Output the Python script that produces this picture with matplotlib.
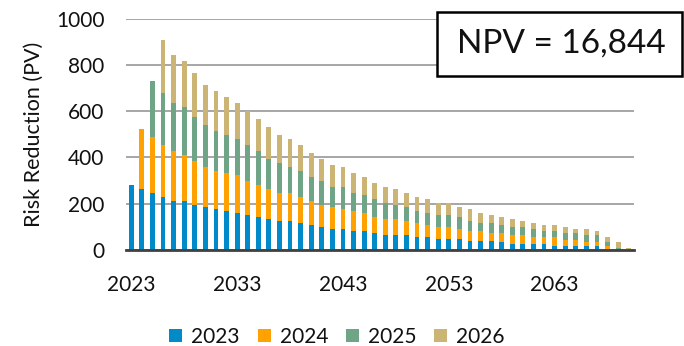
import numpy as np
import matplotlib.pyplot as plt
from matplotlib.patches import Rectangle

plt.rcParams['font.family'] = ['Lato', 'DejaVu Sans']

years = list(range(2023, 2071))
series_names = ["2023", "2024", "2025", "2026"]
colors = ["#008AC9", "#FFA100", "#6FA487", "#CCB574"]

# each cohort runs 45 years, starting in its own year
v2023 = [281, 264, 246, 229, 212, 212, 194, 185, 177, 168, 159, 151, 142, 133, 125,
         125, 116, 107, 99, 90, 90, 81, 81, 72, 64, 64, 63, 54, 54, 45,
         45, 45, 36, 36, 36, 35, 26, 26, 26, 26, 18, 18, 18, 18, 18]
v2024 = [261, 244, 226, 217, 200, 191, 174, 165, 165, 166, 147, 139, 131, 121, 121,
         113, 105, 95, 95, 87, 87, 78, 70, 69, 69, 61, 61, 53, 53, 53,
         44, 44, 44, 36, 36, 36, 36, 27, 27, 35, 26, 26, 17, 17, 18]
v2025 = [243, 226, 209, 208, 192, 183, 174, 165, 156, 157, 148, 130, 131, 113, 113,
         104, 104, 87, 95, 78, 79, 78, 70, 61, 61, 53, 52, 52, 52, 53,
         44, 35, 43, 35, 35, 35, 35, 26, 26, 27, 27, 27, 27, 17, 9]
v2026 = [226, 208, 200, 191, 174, 174, 166, 157, 148, 139, 139, 121, 122, 113, 104,
         96, 96, 87, 87, 78, 70, 69, 70, 62, 61, 61, 53, 53, 43, 53,
         44, 35, 35, 35, 26, 27, 27, 27, 26, 17, 26, 17, 18, 26, 9]

npv_text = "NPV = 16,844"


def pad_series(vals, start):
    out = np.zeros(len(years))
    i0 = years.index(start)
    out[i0:i0 + len(vals)] = vals
    return out


data = [pad_series(v2023, 2023), pad_series(v2024, 2024),
        pad_series(v2025, 2025), pad_series(v2026, 2026)]

fig = plt.figure(figsize=(6.84, 3.46), dpi=100)
ax = fig.add_axes([126 / 684, 1 - 249.7 / 346, 508 / 684, (249.7 - 19) / 346])

x = np.arange(len(years))
bottom = np.zeros(len(years))
for name, vals, c in zip(series_names, data, colors):
    ax.bar(x, vals, width=0.45, bottom=bottom, color=c, label=name, zorder=3)
    bottom += vals

ax.set_xlim(-0.5, len(years) - 0.5)
ax.set_ylim(0, 1000)
ax.set_yticks(range(0, 1001, 200))
ax.set_xticks(x[::10])
ax.set_xticklabels([str(y) for y in years[::10]])
ax.grid(axis='y', color='#A6A6A6', linewidth=1.4, zorder=0)
for s in ['top', 'right', 'left']:
    ax.spines[s].set_visible(False)
ax.spines['bottom'].set_color('#404040')
ax.spines['bottom'].set_linewidth(2)
ax.spines['bottom'].set_zorder(4)
ax.tick_params(axis='both', length=0, labelsize=15, colors='#111111')
ax.tick_params(axis='y', pad=15.5)
ax.tick_params(axis='x', pad=18)
ax.set_ylabel("Risk Reduction (PV)", fontsize=15.5, color='#111111', labelpad=9)

fig.legend(loc='center', bbox_to_anchor=(337 / 684, 1 - 337 / 346), ncol=4,
           frameon=False, fontsize=15, handlelength=0.63, handleheight=0.63,
           handletextpad=0.43, columnspacing=0.85, labelcolor='#111111')

# NPV box
fig.patches.append(Rectangle((437 / 684, 1 - 76 / 346), 245 / 684, 64 / 346,
                             transform=fig.transFigure, facecolor='white',
                             edgecolor='black', linewidth=1.8, zorder=5))
fig.text(561 / 684, 1 - 44 / 346, npv_text, ha='center', va='center',
         fontsize=24, color='#111111', zorder=6)

fig.savefig("out.png", dpi=100, facecolor='white')
